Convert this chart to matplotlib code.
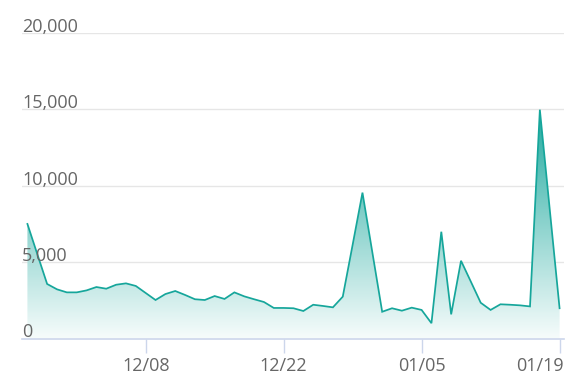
import numpy as np
import pandas as pd
import matplotlib
matplotlib.use("Agg")
import matplotlib.pyplot as plt
import matplotlib.transforms as mtransforms
from matplotlib.colors import LinearSegmentedColormap

# ---- data ----
start_date = "2023-11-26"
end_date = "2024-01-19"
values = [7500, 5530, 3570, 3220, 3020, 3020, 3150, 3370, 3260, 3520,
          3610, 3440, 2980, 2520, 2910, 3110, 2850, 2570, 2520, 2780,
          2590, 3020, 2760, 2570, 2390, 2000, 2000, 1980, 1800, 2210,
          2130, 2040, 2740, 6130, 9550, 5650, 1750, 1980, 1820, 2020,
          1870, 1000, 6990, 1580, 5090, 3720, 2340, 1870, 2240, 2210,
          2170, 2100, 14980, 8480, 1980]
tick_dates = ["2023-12-08", "2023-12-22", "2024-01-05", "2024-01-19"]
tick_labels = ["12/08", "12/22", "01/05", "01/19"]
y_ticks = [0, 5000, 10000, 15000, 20000]
y_labels = ["0", "5,000", "10,000", "15,000", "20,000"]

dates = pd.date_range(start_date, end_date, freq="D")
x = np.arange(len(dates))
y = np.array(values, dtype=float)
tick_pos = [(pd.Timestamp(d) - dates[0]).days for d in tick_dates]

LINE = "#16a69b"
TEXT = "#666666"
FONT = "Open Sans"

fig = plt.figure(figsize=(5.8, 3.81), dpi=100)
W, H = 580, 381
left, right = 22 / W, 564 / W
bottom, top = (H - 338.5) / H, (H - 33) / H
ax = fig.add_axes([left, bottom, right - left, top - bottom])

x0, x1 = -0.55, len(x) - 1 + 0.45
ax.set_xlim(x0, x1)
ax.set_ylim(0, 20000)

# gradient fill clipped to area
poly = ax.fill_between(x, y, 0, color="none", lw=0)
ymax = y.max()
grad = np.linspace(0.04, 0.95, 256).reshape(-1, 1)
cmap = LinearSegmentedColormap.from_list("g", ["#ffffff", "#16a69b"])
img = ax.imshow(grad, extent=[x[0], x[-1], 0, ymax], origin="lower",
                aspect="auto", cmap=cmap, vmin=0, vmax=1, zorder=1,
                interpolation="bicubic")
path = poly.get_paths()[0]
img.set_clip_path(path, transform=ax.transData)

ax.plot(x, y, color=LINE, lw=1.25, zorder=3, solid_joinstyle="miter")

# grid
for t in y_ticks[1:]:
    ax.axhline(t, color="#e6e6e6", lw=1, zorder=0)
ax.axhline(0, color="#ccd6eb", lw=1.2, zorder=4, clip_on=False)

for s in ax.spines.values():
    s.set_visible(False)
ax.set_yticks([])
ax.set_xticks(tick_pos)
ax.set_xticklabels(tick_labels, fontfamily=FONT, fontsize=13, color=TEXT)
ax.tick_params(axis="x", length=10, width=1, color="#ccd6eb", pad=3)
# keep last label inside the plot area (justified to the right edge)
last = ax.get_xticklabels()[-1]
last.set_horizontalalignment("right")
tick_px = left * W + (tick_pos[-1] - x0) / (x1 - x0) * (right - left) * W
last.set_transform(last.get_transform() + mtransforms.ScaledTranslation(
    (564 - tick_px) / 100, 0, fig.dpi_scale_trans))

for t, lab in zip(y_ticks, y_labels):
    ax.annotate(lab, xy=(0, t), xycoords=("axes fraction", "data"),
                xytext=(0, 0.8), textcoords="offset points",
                ha="left", va="baseline", fontfamily=FONT, fontsize=13,
                color=TEXT, zorder=5)

fig.savefig("out.png", dpi=100)
